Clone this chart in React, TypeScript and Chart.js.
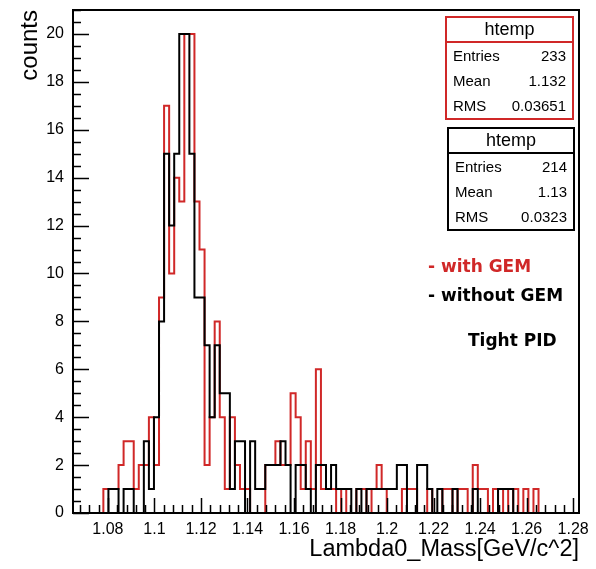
import React, { useEffect, useRef } from 'react';
import { Chart, registerables } from 'chart.js';

Chart.register(...registerables);

// Binning of the Lambda0 invariant-mass histograms
const X_MIN = 1.065;
const X_MAX = 1.2825;
const N_BINS = 100;
const Y_MAX = 21;

// Bin contents, bin 0 .. 99
const withGemCounts = [
  0, 0, 0, 0, 0, 0, 0, 1, 1, 1,
  2, 3, 3, 1, 2, 2, 4, 2, 9, 17,
  10, 14, 13, 20, 20, 13, 11, 2, 4, 8,
  4, 1, 4, 2, 1, 1, 0, 0, 0, 2,
  2, 3, 2, 2, 5, 4, 1, 3, 1, 6,
  1, 1, 1, 0, 1, 0, 0, 1, 1, 0,
  1, 2, 1, 0, 0, 0, 1, 1, 1, 0,
  0, 1, 0, 0, 1, 1, 0, 1, 1, 0,
  2, 1, 1, 0, 1, 0, 1, 0, 1, 0,
  1, 0, 1, 0, 0, 0, 0, 0, 0, 0,
];

const withoutGemCounts = [
  0, 0, 0, 0, 0, 0, 0, 0, 1, 1,
  0, 1, 1, 0, 0, 3, 1, 4, 8, 15,
  12, 15, 20, 20, 15, 9, 9, 7, 4, 7,
  5, 5, 1, 3, 3, 0, 3, 1, 1, 2,
  2, 2, 3, 2, 0, 2, 2, 1, 0, 2,
  2, 1, 2, 1, 1, 1, 0, 1, 0, 1,
  1, 1, 1, 1, 1, 2, 2, 0, 0, 2,
  2, 1, 0, 1, 0, 0, 1, 0, 0, 0,
  1, 0, 0, 0, 0, 1, 1, 1, 0, 0,
  0, 0, 0, 0, 0, 0, 0, 0, 0, 0,
];

// Statistics boxes
const statNames = ['Entries', 'Mean', 'RMS'];
const statsWithGem = ['233', '1.132', '0.03651'];
const statsWithoutGem = ['214', '1.13', '0.0323'];

// Axis ticks
const X_MAJOR = 0.02;
const X_MINOR = 0.004;
const Y_MAJOR = 2;
const Y_MINOR = 0.5;

const RED = '#d02828';
const ROOT_FONT = '"Liberation Sans", Arial, sans-serif';
const NOTE_FONT = '"DejaVu Sans", sans-serif';

const binEdge = (i: number) => X_MIN + (i * (X_MAX - X_MIN)) / N_BINS;

function stepPoints(counts: number[]) {
  const pts = counts.map((c, i) => ({ x: binEdge(i), y: c }));
  pts.push({ x: binEdge(counts.length), y: counts[counts.length - 1] });
  return pts;
}

function formatX(v: number) {
  return v.toFixed(2).replace(/0+$/, '').replace(/\.$/, '');
}

function drawStatsBox(
  ctx: CanvasRenderingContext2D,
  left: number,
  top: number,
  right: number,
  bottom: number,
  color: string,
  values: string[]
) {
  ctx.save();
  ctx.fillStyle = '#ffffff';
  ctx.fillRect(left, top, right - left, bottom - top);
  ctx.strokeStyle = color;
  ctx.lineWidth = 2;
  ctx.strokeRect(left, top, right - left, bottom - top);
  ctx.beginPath();
  ctx.moveTo(left, top + 25);
  ctx.lineTo(right, top + 25);
  ctx.stroke();

  ctx.fillStyle = '#000';
  ctx.textBaseline = 'middle';
  ctx.font = `18px ${ROOT_FONT}`;
  ctx.textAlign = 'center';
  ctx.fillText('htemp', (left + right) / 2, top + 13);

  ctx.font = `15px ${ROOT_FONT}`;
  statNames.forEach((name, i) => {
    const y = top + 40 + 25 * i;
    ctx.textAlign = 'left';
    ctx.fillText(name, left + 7, y);
    ctx.textAlign = 'right';
    ctx.fillText(values[i], right - 7, y);
  });
  ctx.restore();
}

const rootFramePlugin = {
  id: 'rootFrame',
  afterDraw(chart: any) {
    const { ctx, chartArea, scales } = chart;
    const { left, right, top, bottom } = chartArea;
    const xs = scales.x;
    const ys = scales.y;
    ctx.save();

    // ticks drawn inward, ROOT style
    ctx.strokeStyle = '#000';
    ctx.lineWidth = 1.5;
    ctx.beginPath();
    const iStart = Math.ceil(X_MIN / X_MINOR - 1e-6);
    for (let i = iStart; i * X_MINOR <= X_MAX + 1e-9; i++) {
      const v = i * X_MINOR;
      const major = i % Math.round(X_MAJOR / X_MINOR) === 0;
      const px = Math.round(xs.getPixelForValue(v)) + 0.5;
      ctx.moveTo(px, bottom);
      ctx.lineTo(px, bottom - (major ? 15 : 8));
    }
    const yRatio = Math.round(Y_MAJOR / Y_MINOR);
    for (let j = 0; j * Y_MINOR <= Y_MAX + 1e-9; j++) {
      const v = j * Y_MINOR;
      const major = j % yRatio === 0;
      const py = Math.round(ys.getPixelForValue(v)) + 0.5;
      ctx.moveTo(left, py);
      ctx.lineTo(left + (major ? 16 : 8), py);
    }
    ctx.stroke();

    // frame
    ctx.lineWidth = 2;
    ctx.strokeRect(left, top, right - left, bottom - top);

    // statistics boxes
    drawStatsBox(ctx, 446, 17, 573, 119, RED, statsWithGem);
    drawStatsBox(ctx, 448, 128, 574, 230, '#000', statsWithoutGem);

    // annotations
    ctx.font = `bold 17px ${NOTE_FONT}`;
    ctx.textAlign = 'left';
    ctx.textBaseline = 'alphabetic';
    ctx.fillStyle = RED;
    ctx.fillText('- with GEM', 428, 272);
    ctx.fillStyle = '#000';
    ctx.fillText('- without GEM', 428, 301);
    ctx.fillText('Tight PID', 468, 346);
    ctx.restore();
  },
};

export default function App() {
  const canvasRef = useRef<HTMLCanvasElement | null>(null);

  useEffect(() => {
    const canvas = canvasRef.current;
    if (!canvas) return;
    const chart = new Chart(canvas, {
      type: 'line',
      data: {
        datasets: [
          {
            label: 'without GEM',
            data: stepPoints(withoutGemCounts),
            borderColor: '#000000',
            borderWidth: 2,
            stepped: 'after',
            pointRadius: 0,
            fill: false,
            order: 0,
          },
          {
            label: 'with GEM',
            data: stepPoints(withGemCounts),
            borderColor: RED,
            borderWidth: 2,
            stepped: 'after',
            pointRadius: 0,
            fill: false,
            order: 1,
          },
        ],
      },
      options: {
        responsive: false,
        animation: false,
        devicePixelRatio: 1,
        layout: { padding: { top: 10, right: 17, bottom: 0, left: 0 } },
        plugins: {
          legend: { display: false },
          tooltip: { enabled: false },
        },
        scales: {
          x: {
            type: 'linear',
            min: X_MIN,
            max: X_MAX,
            afterFit: (s: any) => {
              s.height = 56;
              s.paddingLeft = 0;
              s.paddingRight = 0;
            },
            grid: { display: false, drawTicks: false },
            border: { display: false },
            ticks: {
              stepSize: X_MAJOR,
              includeBounds: false,
              autoSkip: false,
              maxRotation: 0,
              padding: 7,
              color: '#000',
              font: { family: ROOT_FONT, size: 16 },
              callback: (v: any) => formatX(Number(v)),
            },
            title: {
              display: true,
              text: 'Lambda0_Mass[GeV/c^2]',
              align: 'end',
              color: '#000',
              font: { family: ROOT_FONT, size: 23.5 },
              padding: { top: 0, bottom: 5 },
            },
          },
          y: {
            type: 'linear',
            min: 0,
            max: Y_MAX,
            afterFit: (s: any) => {
              s.width = 73;
              s.paddingTop = 0;
              s.paddingBottom = 0;
            },
            grid: { display: false, drawTicks: false },
            border: { display: false },
            ticks: {
              stepSize: Y_MAJOR,
              includeBounds: false,
              padding: 9,
              color: '#000',
              font: { family: ROOT_FONT, size: 16 },
            },
            title: {
              display: true,
              text: 'counts',
              align: 'end',
              color: '#000',
              font: { family: ROOT_FONT, size: 24 },
              padding: { top: 16, bottom: 0 },
            },
          },
        },
      },
      plugins: [rootFramePlugin],
    });
    return () => chart.destroy();
  }, []);

  return (
    <div style={{ position: 'fixed', left: 0, top: 0, width: 596, height: 569, background: '#fff' }}>
      <canvas ref={canvasRef} width={596} height={569} />
    </div>
  );
}
